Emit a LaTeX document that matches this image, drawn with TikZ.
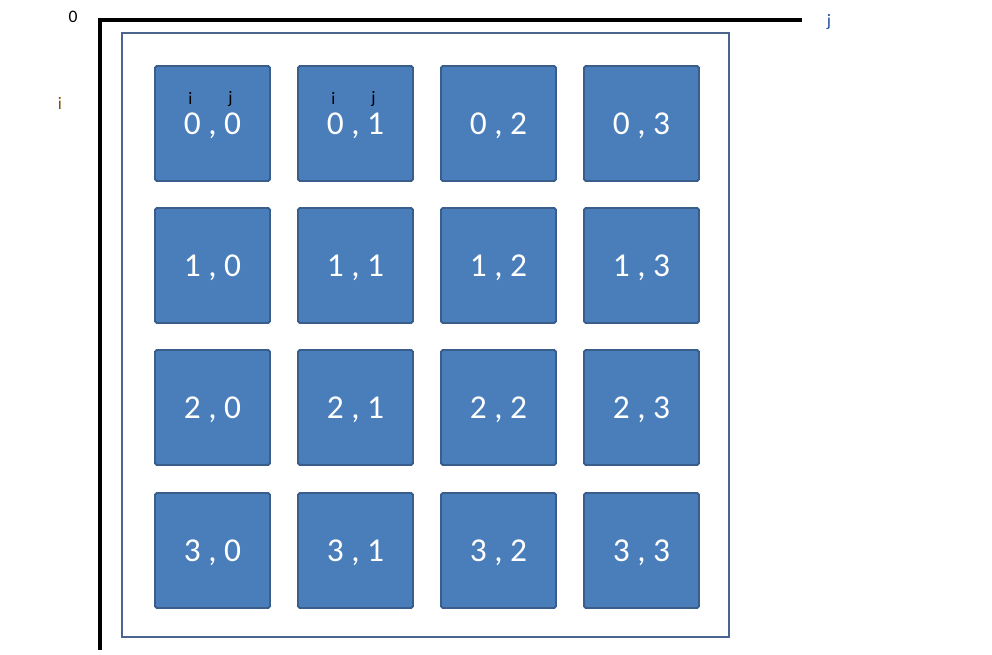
\documentclass[tikz,border=0pt]{standalone}
\usepackage{fontspec}
\setmainfont{Carlito}
\usetikzlibrary{positioning}
\definecolor{cellBlue}{HTML}{4A7EBB}
\definecolor{cellEdge}{HTML}{3A5E8C}
\definecolor{frameBlue}{HTML}{4B6590}
\definecolor{iBrown}{HTML}{7F5200}
\definecolor{jBlue}{HTML}{1F4E9A}
\begin{document}
\begin{tikzpicture}[x=0.02cm, y=-0.02cm,
  cell/.style={draw=cellEdge, fill=cellBlue, line width=1.1pt, rounded corners=1pt,
               minimum size=2.3cm, inner sep=0pt, text depth=0pt, text=white,
               font=\fontsize{19}{20}\selectfont},
  idx/.style={font=\fontsize{10}{11}\selectfont, text=black, inner sep=0pt},
  axis/.style={line width=2.8pt, line cap=butt},
]
  \useasboundingbox (0,0) rectangle (992,655);
  \def\ca{212.5}\def\cb{355.5}\def\cc{498.5}\def\cd{641.5}
  \def\ra{123.5}\def\rb{265.5}\def\rc{407.5}\def\rd{550.5}
  % axes
  \coordinate (o) at (100,20);
  \coordinate (jend) at (802,20);
  \coordinate (iend) at (100,650);
  \draw[axis] (jend) -- (o) -- (iend);
  \node[idx] (zero) at (73,17) {0};
  \node[idx, text=jBlue] (jlab) at (829,22) {j};
  \node[idx, text=iBrown] (ilab) at (60,103) {i};
  % frame
  \draw[frameBlue, line width=1.1pt] (122,33) rectangle (729,637);
  % cells
  \node[cell] (c00) at (\ca,\ra) {0 , 0};
  \node[cell] (c01) at (\cb,\ra) {0 , 1};
  \node[cell] (c02) at (\cc,\ra) {0 , 2};
  \node[cell] (c03) at (\cd,\ra) {0 , 3};
  \node[cell] (c10) at (\ca,\rb) {1 , 0};
  \node[cell] (c11) at (\cb,\rb) {1 , 1};
  \node[cell] (c12) at (\cc,\rb) {1 , 2};
  \node[cell] (c13) at (\cd,\rb) {1 , 3};
  \node[cell] (c20) at (\ca,\rc) {2 , 0};
  \node[cell] (c21) at (\cb,\rc) {2 , 1};
  \node[cell] (c22) at (\cc,\rc) {2 , 2};
  \node[cell] (c23) at (\cd,\rc) {2 , 3};
  \node[cell] (c30) at (\ca,\rd) {3 , 0};
  \node[cell] (c31) at (\cb,\rd) {3 , 1};
  \node[cell] (c32) at (\cc,\rd) {3 , 2};
  \node[cell] (c33) at (\cd,\rd) {3 , 3};
  % index hints
  \node[idx] at ([xshift=-0.44cm,yshift=0.5cm]c00.center) {i};
  \node[idx] at ([xshift=0.36cm,yshift=0.5cm]c00.center) {j};
  \node[idx] at ([xshift=-0.44cm,yshift=0.5cm]c01.center) {i};
  \node[idx] at ([xshift=0.36cm,yshift=0.5cm]c01.center) {j};
\end{tikzpicture}
\end{document}
